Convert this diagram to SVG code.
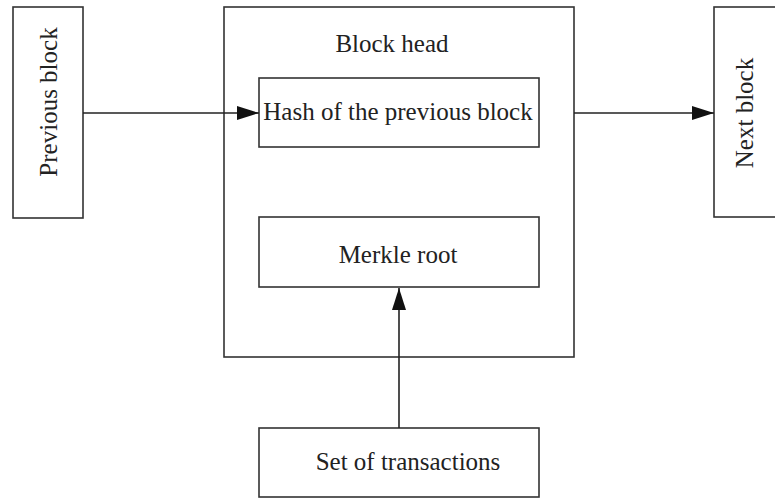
<svg xmlns="http://www.w3.org/2000/svg" width="775" height="499" viewBox="0 0 775 499">
<style>
.box{fill:#fff;stroke:#333;stroke-width:1.6}
.t{font-family:"Liberation Serif","Times New Roman",serif;font-size:25px;fill:#222;text-anchor:middle}
.c{stroke:#222;stroke-width:1.6;fill:none}
</style>
<defs>
<marker id="ah" markerUnits="userSpaceOnUse" markerWidth="22" markerHeight="14" refX="22" refY="7" orient="auto">
<path d="M0,0 L22,7 L0,14 Z" fill="#111"/>
</marker>
</defs>
<rect width="775" height="499" fill="#fff"/>
<g id="previous-block">
<rect class="box" x="13" y="7" width="70" height="211"/>
<text class="t" transform="translate(57,102) rotate(-90)">Previous block</text>
</g>
<g id="block-head">
<rect class="box" x="224" y="7" width="350" height="350"/>
<text class="t" x="392" y="52">Block head</text>
</g>
<g id="hash-prev">
<rect class="box" x="259" y="78" width="280" height="69"/>
<text class="t" x="398" y="120">Hash of the previous block</text>
</g>
<g id="merkle-root">
<rect class="box" x="259" y="217" width="280" height="70"/>
<text class="t" x="398" y="263">Merkle root</text>
</g>
<g id="transactions">
<rect class="box" x="259" y="428" width="280" height="69"/>
<text class="t" x="408" y="470">Set of transactions</text>
</g>
<g id="next-block">
<rect class="box" x="714" y="7" width="80" height="210"/>
<text class="t" transform="translate(753,113) rotate(-90)">Next block</text>
</g>
<g id="connectors">
<line class="c" x1="83" y1="113" x2="259" y2="113" marker-end="url(#ah)"/>
<line class="c" x1="574" y1="113" x2="714" y2="113" marker-end="url(#ah)"/>
<line class="c" x1="399" y1="428" x2="399" y2="288" marker-end="url(#ah)"/>
</g>
</svg>
